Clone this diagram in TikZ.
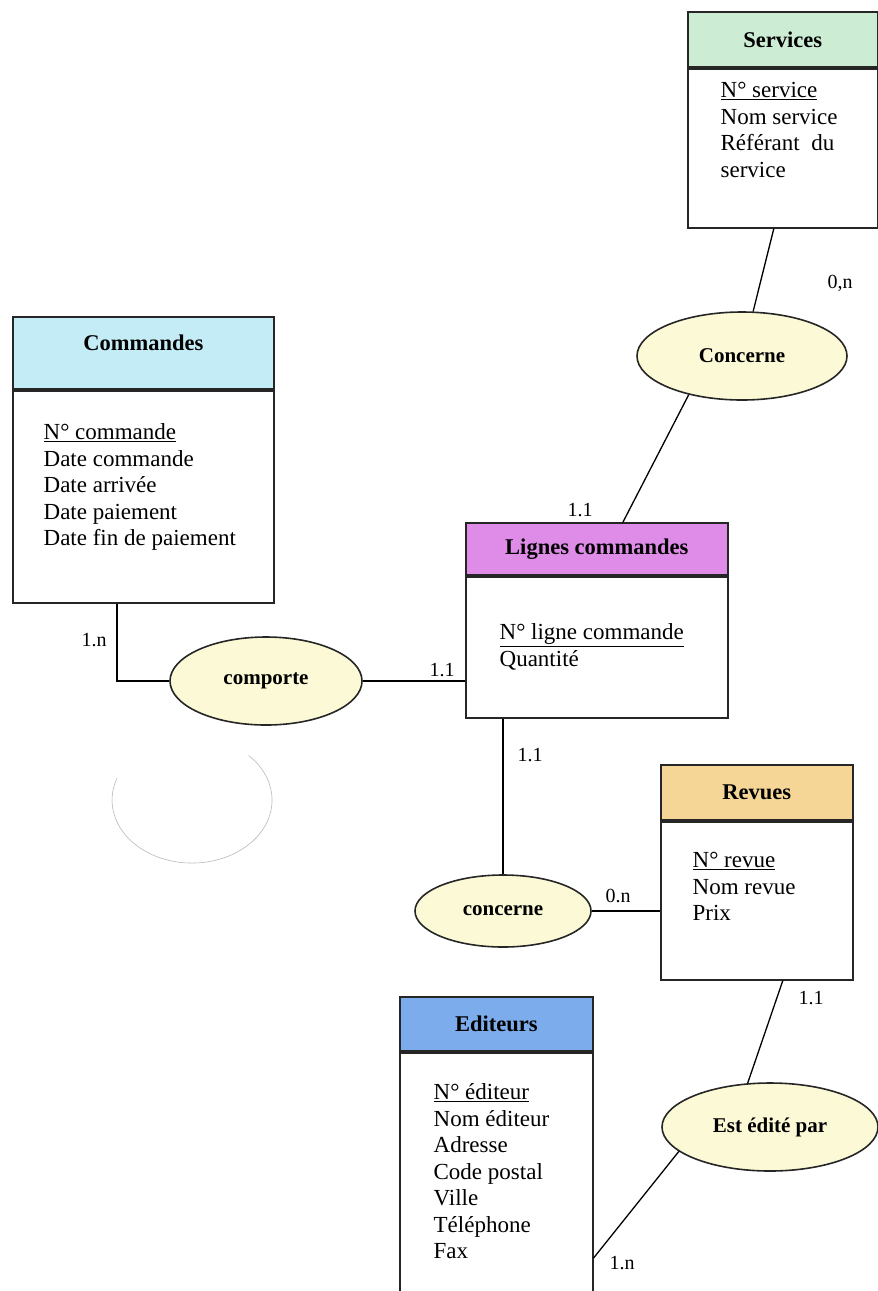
\documentclass[tikz,border=0pt]{standalone}
\usepackage{fontspec}
\setmainfont{Liberation Serif}
\usepackage{tikz}
\usetikzlibrary{shapes.geometric,positioning}

\definecolor{srvcol}{RGB}{205,236,212}
\definecolor{cmdcol}{RGB}{196,236,246}
\definecolor{ligcol}{RGB}{222,140,232}
\definecolor{revcol}{RGB}{246,214,150}
\definecolor{edtcol}{RGB}{125,172,236}
\definecolor{assoccol}{RGB}{252,250,214}

\begin{document}
\begin{tikzpicture}[x=1pt, y=-1pt, line width=1.3pt, node distance=0pt]

    \tikzstyle{entity}=[rectangle, draw=black!85, line width=1.6pt, inner sep=0pt]
    \tikzstyle{head}=[entity, font=\fontsize{22.5}{26}\selectfont\bfseries]
    \tikzstyle{attr}=[anchor=north west, align=left, inner sep=0pt, font=\fontsize{23}{26.5}\selectfont]
    \tikzstyle{assoc}=[ellipse, draw=black!85, fill=assoccol, line width=1.6pt, inner sep=0pt, font=\fontsize{21}{24}\selectfont\bfseries]
    \tikzstyle{card}=[inner sep=0pt, font=\fontsize{20}{24}\selectfont]

    \useasboundingbox (0,0) rectangle (878,1291);

    % entites
    \node[entity, minimum width=190pt, minimum height=159pt, anchor=north west] (srv) at (687,68) {};
    \node[head, fill=srvcol, minimum width=190pt, minimum height=55pt, above=of srv] (srvH) {Services};
    \node[attr] (srvA) at (720,82) {\underline{N° service}\\Nom service\\Référant~~du\\service};

    \node[entity, minimum width=261pt, minimum height=212pt, anchor=north west] (cmd) at (12,390) {};
    \node[head, fill=cmdcol, minimum width=261pt, minimum height=72pt, text depth=22pt, above=of cmd] (cmdH) {Commandes};
    \node[attr] (cmdA) at (43,423) {\underline{N° commande}\\Date commande\\Date arrivée\\Date paiement\\Date fin de paiement};

    \node[entity, minimum width=262pt, minimum height=141pt, anchor=north west] (lig) at (465,576) {};
    \node[head, fill=ligcol, minimum width=262pt, minimum height=52pt, above=of lig] (ligH) {Lignes commandes};
    \node[attr] (ligA) at (499,623) {\underline{N° ligne commande}\\Quantité};

    \node[entity, minimum width=192pt, minimum height=158pt, anchor=north west] (rev) at (660,821) {};
    \node[head, fill=revcol, minimum width=192pt, minimum height=55pt, above=of rev] (revH) {Revues};
    \node[attr] (revA) at (692,852) {\underline{N° revue}\\Nom revue\\Prix};

    \node[entity, minimum width=193pt, minimum height=258pt, anchor=north west] (edt) at (399,1052) {};
    \node[head, fill=edtcol, minimum width=193pt, minimum height=54pt, above=of edt] (edtH) {Editeurs};
    \node[attr] (edtA) at (433,1083) {\underline{N° éditeur}\\Nom éditeur\\Adresse\\Code postal\\Ville\\Téléphone\\Fax};

    % associations
    \node[assoc, minimum width=210pt, minimum height=88pt] (conc)  at (742,356)  {Concerne};
    \node[assoc, minimum width=192pt, minimum height=88pt] (comp)  at (266,681)  {comporte};
    \node[assoc, minimum width=176pt, minimum height=72pt] (conc2) at (503,911)  {concerne};
    \node[assoc, minimum width=216pt, minimum height=88pt] (edite) at (770,1127) {Est édité par};

    % liens
    \draw (cmd.south -| 117,0) |- (comp.west);
    \path ([xshift=-9pt]srv.south)  edge (conc)
          ([xshift=26pt]ligH.north) edge (conc.216)
          (comp.east)               edge (comp.east -| lig.west)
          (lig.south -| conc2)      edge (conc2)
          (conc2.east)              edge (conc2.east -| rev.west)
          ([xshift=26pt]rev.south)  edge (edite.117)
          (edite.195)               edge ([yshift=-206pt]edt.north east)
    ;

    % cardinalites
    \node[card] (k1) at (840,283)  {0,n};
    \node[card] (k2) at (580,510)  {1.1};
    \node[card] (k3) at (94,640)   {1.n};
    \node[card] (k4) at (442,670)  {1.1};
    \node[card] (k5) at (530,755)  {1.1};
    \node[card] (k6) at (618,896)  {0.n};
    \node[card] (k7) at (811,998)  {1.1};
    \node[card] (k8) at (622,1263) {1.n};

    % trace
    \draw[black!28, line width=0.6pt] (248.6,755.5) arc[start angle=-45, end angle=200, x radius=80, y radius=63];

\end{tikzpicture}
\end{document}
